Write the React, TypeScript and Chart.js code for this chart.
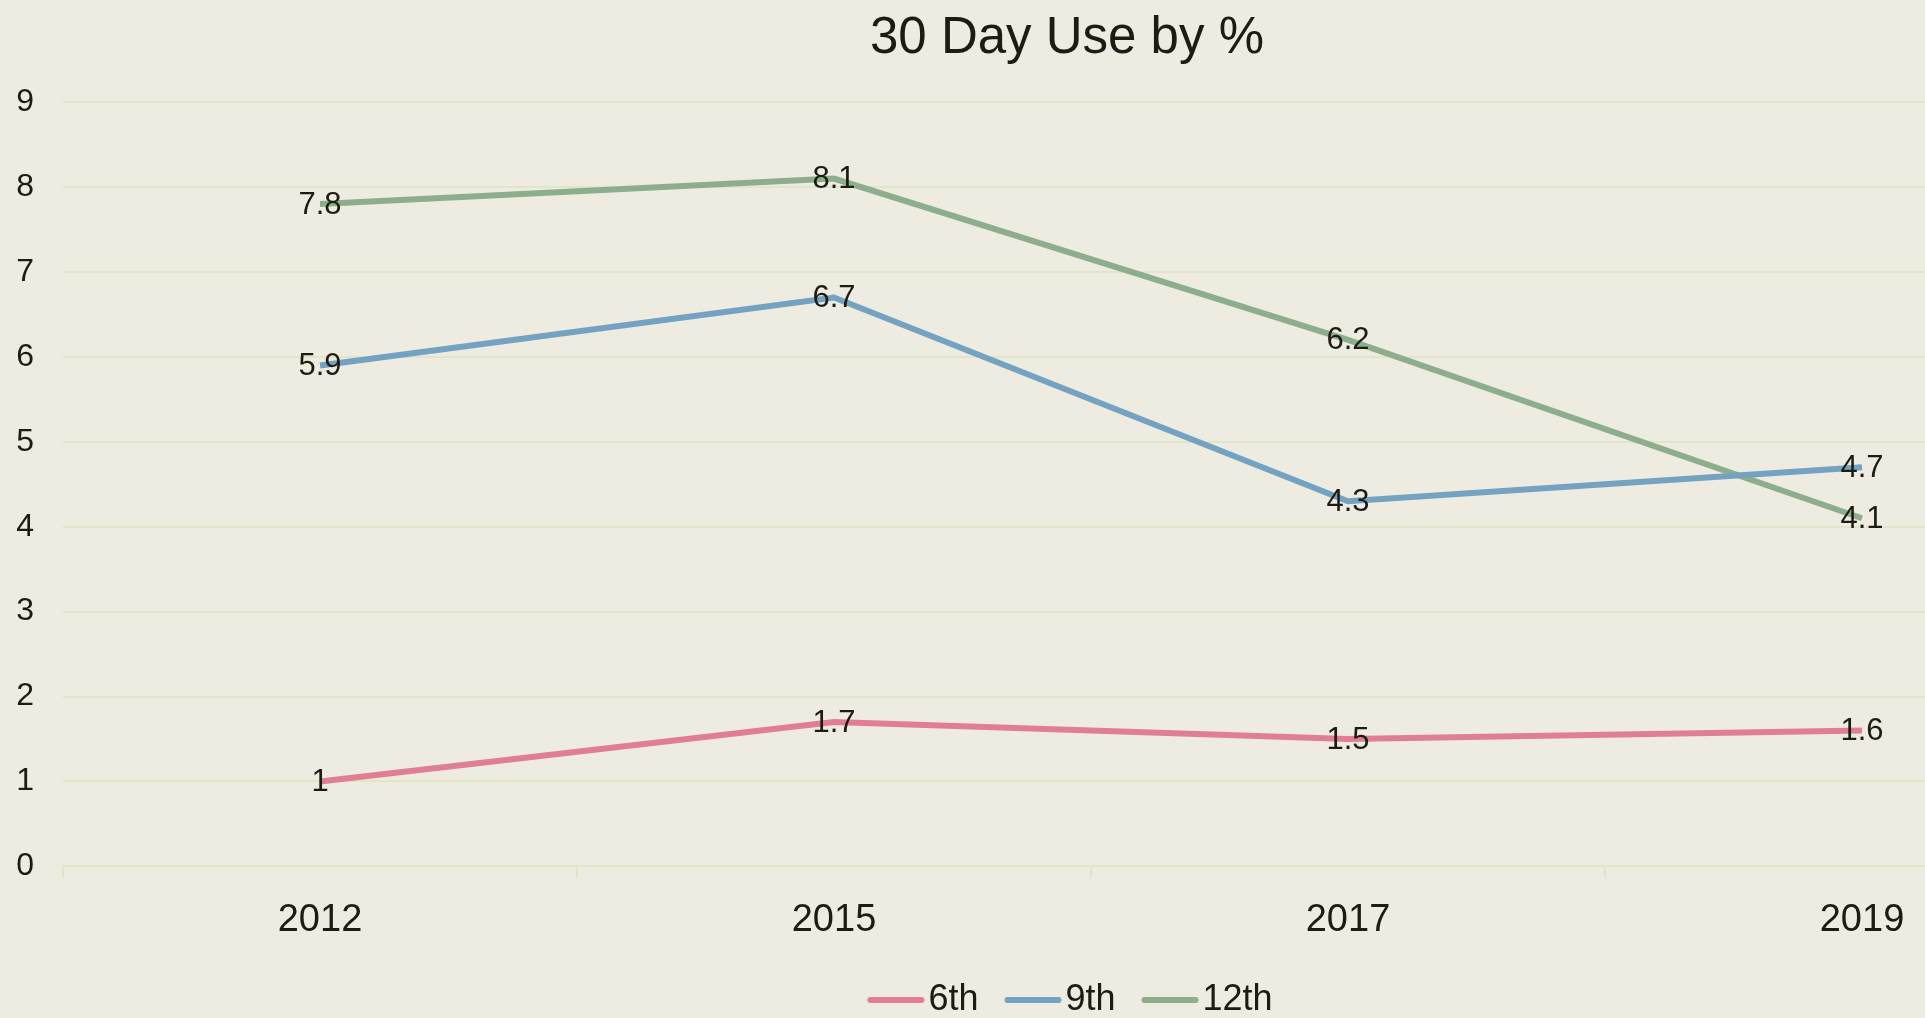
import React, { useEffect, useRef } from "react";
import { Chart, registerables } from "chart.js";

Chart.register(...registerables);

const chartTitle = "30 Day Use by %";
const years = ["2012", "2015", "2017", "2019"];
const seriesNames = ["6th", "9th", "12th"];
const sixthValues = [1, 1.7, 1.5, 1.6];
const ninthValues = [5.9, 6.7, 4.3, 4.7];
const twelfthValues = [7.8, 8.1, 6.2, 4.1];
const seriesColors = ["#E07F94", "#74A2C1", "#8CAE8C"];
const yMin = 0;
const yMax = 9;
const yStep = 1;

const BG = "#EEECE1";
const GRID = "#E1E5CC";
const TEXT = "#1C1C14";
const FONT = "'Liberation Sans', Arial, sans-serif";
const CANVAS_W = 2140;
const CANVAS_H = 1018;

const bgPlugin = {
  id: "bgFill",
  beforeDraw(chart: any) {
    const ctx = chart.ctx;
    ctx.save();
    ctx.fillStyle = BG;
    ctx.fillRect(0, 0, chart.width, chart.height);
    ctx.restore();
  },
};

const labelPlugin = {
  id: "valueLabels",
  afterDatasetsDraw(chart: any) {
    const ctx = chart.ctx;
    ctx.save();
    ctx.font = `31px ${FONT}`;
    ctx.fillStyle = TEXT;
    ctx.textAlign = "center";
    ctx.textBaseline = "middle";
    chart.data.datasets.forEach((ds: any, i: number) => {
      const meta = chart.getDatasetMeta(i);
      meta.data.forEach((pt: any, j: number) => {
        ctx.fillText(String(ds.data[j]), pt.x, pt.y + 1);
      });
    });
    ctx.restore();
  },
};

const legendPlugin = {
  id: "lineLegend",
  afterDraw(chart: any) {
    const ctx = chart.ctx;
    ctx.save();
    ctx.font = `36px ${FONT}`;
    const lineW = 57;
    const gapText = 4;
    const gapItem = 26;
    const items = chart.data.datasets.map((ds: any) => ({
      label: ds.label,
      color: ds.borderColor,
      w: ctx.measureText(ds.label).width,
    }));
    const total =
      items.reduce((s: number, it: any) => s + lineW + gapText + it.w, 0) +
      gapItem * (items.length - 1);
    let x = chart.width / 2 - total / 2;
    const y = 1000;
    items.forEach((it: any) => {
      ctx.strokeStyle = it.color;
      ctx.lineWidth = 6;
      ctx.lineCap = "round";
      ctx.beginPath();
      ctx.moveTo(x + 3, y);
      ctx.lineTo(x + lineW - 3, y);
      ctx.stroke();
      ctx.fillStyle = TEXT;
      ctx.textAlign = "left";
      ctx.textBaseline = "middle";
      ctx.fillText(it.label, x + lineW + gapText, y);
      x += lineW + gapText + it.w + gapItem;
    });
    ctx.restore();
  },
};

export default function App() {
  const ref = useRef<HTMLCanvasElement | null>(null);

  useEffect(() => {
    if (!ref.current) return;
    const allValues = [sixthValues, ninthValues, twelfthValues];
    const chart = new Chart(ref.current, {
      type: "line",
      data: {
        labels: years,
        datasets: seriesNames.map((name, i) => ({
          label: name,
          data: allValues[i],
          borderColor: seriesColors[i],
          backgroundColor: seriesColors[i],
          borderWidth: 6,
          pointRadius: 0,
          pointHoverRadius: 0,
          tension: 0,
          fill: false,
        })),
      },
      options: {
        responsive: false,
        animation: false,
        devicePixelRatio: 1,
        layout: { padding: { left: 15, right: 21, top: 0, bottom: 56 } },
        plugins: {
          legend: { display: false },
          tooltip: { enabled: false },
          title: {
            display: true,
            text: chartTitle,
            color: TEXT,
            font: { family: FONT, size: 51, weight: "normal" },
            padding: { top: 8, bottom: 33 },
          },
        },
        scales: {
          x: {
            type: "category",
            offset: true,
            afterFit: (scale: any) => {
              scale.paddingLeft = 0;
              scale.paddingRight = 0;
            },
            grid: {
              display: true,
              drawOnChartArea: false,
              drawTicks: true,
              tickLength: 12,
              offset: true,
              color: GRID,
              lineWidth: 2,
            },
            border: { display: true, color: GRID, width: 2 },
            ticks: {
              color: TEXT,
              font: { family: FONT, size: 38 },
              padding: 19,
              maxRotation: 0,
            },
          },
          y: {
            min: yMin,
            max: yMax,
            afterFit: (scale: any) => {
              scale.width = 48;
            },
            ticks: {
              stepSize: yStep,
              color: TEXT,
              font: { family: FONT, size: 32 },
              padding: 29,
            },
            grid: { color: GRID, lineWidth: 2, drawTicks: false },
            border: { display: false },
          },
        },
      },
      plugins: [bgPlugin, labelPlugin, legendPlugin],
    });
    return () => chart.destroy();
  }, []);

  return (
    <div
      style={{
        position: "fixed",
        left: 0,
        top: 0,
        width: "100vw",
        height: "100vh",
        overflow: "hidden",
        background: BG,
      }}
    >
      <canvas ref={ref} width={CANVAS_W} height={CANVAS_H} style={{ display: "block" }} />
    </div>
  );
}
